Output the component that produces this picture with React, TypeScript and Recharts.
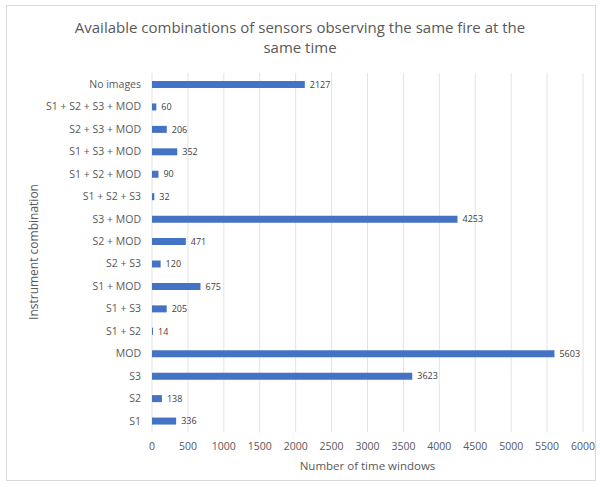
import React from 'react'
import { BarChart, Bar, XAxis, YAxis, CartesianGrid, LabelList } from 'recharts'

const categories = [
  'No images',
  'S1 + S2 + S3 + MOD',
  'S2 + S3 + MOD',
  'S1 + S3 + MOD',
  'S1 + S2 + MOD',
  'S1 + S2 + S3',
  'S3 + MOD',
  'S2 + MOD',
  'S2 + S3',
  'S1 + MOD',
  'S1 + S3',
  'S1 + S2',
  'MOD',
  'S3',
  'S2',
  'S1',
]
const counts = [2127, 60, 206, 352, 90, 32, 4253, 471, 120, 675, 205, 14, 5603, 3623, 138, 336]
const xTicks = [0, 500, 1000, 1500, 2000, 2500, 3000, 3500, 4000, 4500, 5000, 5500, 6000]

const data = categories.map((name, i) => ({ name, value: counts[i] }))

const font = '"Open Sans", "Liberation Sans", sans-serif'
const grey = '#595959'

const App = () => {
  return (
    <div style={{ position: 'absolute', left: 0, top: 0, width: 600, height: 487, background: '#fff', fontFamily: font }}>
      <div
        style={{
          position: 'absolute',
          left: 6,
          top: 5,
          width: 590,
          height: 476,
          border: '1px solid #d9d9d9',
          boxSizing: 'border-box',
        }}
      />
      <div
        style={{
          position: 'absolute',
          left: 0,
          top: 17,
          width: 600,
          textAlign: 'center',
          fontSize: 15,
          lineHeight: '20px',
          color: grey,
        }}
      >
        Available combinations of sensors observing the same fire at the
        <br />
        same time
      </div>
      <div
        style={{
          position: 'absolute',
          left: 33,
          top: 252,
          transform: 'translate(-50%, -50%) rotate(-90deg)',
          whiteSpace: 'nowrap',
          fontSize: 12,
          color: grey,
        }}
      >
        Instrument combination
      </div>
      <div
        style={{
          position: 'absolute',
          left: 152,
          width: 431,
          top: 458,
          textAlign: 'center',
          fontSize: 11.5,
          color: grey,
        }}
      >
        Number of time windows
      </div>
      <div style={{ position: 'absolute', left: 0, top: 0 }}>
        <BarChart
          width={600}
          height={487}
          data={data}
          layout='vertical'
          margin={{ top: 73, right: 17, bottom: 0, left: 0 }}
        >
          <CartesianGrid horizontal={false} stroke='#e3e3e3' />
          <XAxis
            type='number'
            domain={[0, 6000]}
            ticks={xTicks}
            interval={0}
            axisLine={false}
            tickLine={false}
            tickSize={0}
            tickMargin={11}
            height={55}
            tick={{ fontSize: 10.5, fill: grey, fontFamily: font }}
          />
          <YAxis
            type='category'
            dataKey='name'
            width={152}
            interval={0}
            axisLine={false}
            tickLine={false}
            tickSize={0}
            tickMargin={11}
            tick={{ fontSize: 10.5, fill: grey, fontFamily: font }}
          />
          <Bar dataKey='value' fill='#4472C4' barSize={7} isAnimationActive={false}>
            <LabelList
              dataKey='value'
              position='right'
              offset={5}
              style={{ fontSize: 9, fill: '#404040', fontFamily: font }}
            />
          </Bar>
        </BarChart>
      </div>
    </div>
  )
}

export default App
